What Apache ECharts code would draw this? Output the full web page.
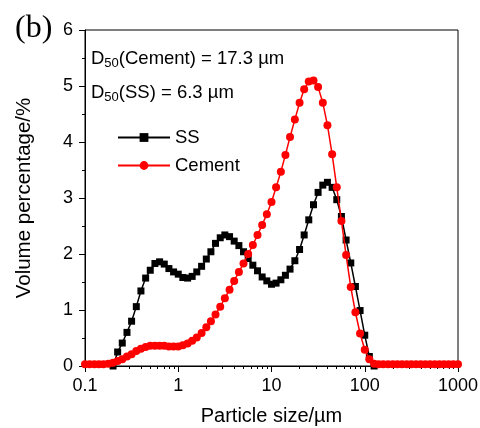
<!DOCTYPE html>
<html><head><meta charset="utf-8">
<script src="https://cdn.jsdelivr.net/npm/echarts@6/dist/echarts.min.js"></script>
<style>html,body{margin:0;padding:0;background:#fff}#c{width:480px;height:428px}</style>
</head><body><div id="c"></div>
<script>
// Particle size grid (µm)
const sizes = [0.1,0.112,0.126,0.141,0.158,0.178,0.2,0.224,0.251,0.282,0.316,0.355,0.398,0.447,0.501,0.562,0.631,0.708,0.794,0.891,
1,1.12,1.26,1.41,1.58,1.78,2,2.24,2.51,2.82,3.16,3.55,3.98,4.47,5.01,5.62,6.31,7.08,7.94,8.91,
10,11.2,12.6,14.1,15.8,17.8,20,22.4,25.1,28.2,31.6,35.5,39.8,44.7,50.1,56.2,63.1,70.8,79.4,89.1,
100,112,126,141,158,178,200,224,251,282,316,355,398,447,501,562,631,708,794,891,1000];
const ssValues = [null,null,null,null,null,null,
0,0.25,0.41,0.60,0.80,1.06,1.34,1.57,1.71,1.83,1.86,1.82,1.74,1.68,1.64,1.58,1.57,1.60,1.68,1.78,1.91,2.04,2.19,2.29,2.34,2.31,2.23,2.15,2.04,1.92,1.80,1.70,1.59,1.52,1.46,1.48,1.54,1.62,1.73,1.88,2.08,2.34,2.61,2.88,3.10,3.23,3.28,3.19,2.97,2.67,2.25,1.84,1.42,0.99,0.55,0.17,0,
null,null,null,null,null,null,null,null,null,null,null,null,null,null,null,null,null,null];
const cementValues = [0.03,0.03,0.03,0.03,0.03,
0.04,0.06,0.09,0.12,0.17,0.21,0.27,0.31,0.34,0.36,0.36,0.36,0.36,0.35,0.35,0.35,0.37,0.40,0.45,0.51,0.59,0.69,0.80,0.92,1.06,1.21,1.36,1.52,1.68,1.83,2.00,2.16,2.34,2.52,2.71,2.93,3.19,3.47,3.77,4.09,4.40,4.70,4.94,5.08,5.10,4.98,4.70,4.30,3.78,3.19,2.59,1.98,1.41,0.96,0.58,0.29,0.12,0.04,
0.03,0.03,0.03,0.03,0.03,0.03,0.03,0.03,0.03,0.03,0.03,0.03,0.03,0.03,0.03,0.03,0.03,0.03];
const minorXTicks = [0.2,0.3,0.4,0.5,0.6,0.7,0.8,0.9,2,3,4,5,6,7,8,9,20,30,40,50,60,70,80,90,200,300,400,500,600,700,800,900];
const seriesNames = ['SS','Cement'];

const FONT = 'Liberation Sans, Arial, sans-serif';
function pairs(vals){
  const out = [];
  for (let i = 0; i < sizes.length; i++) {
    if (vals[i] === null) continue;
    out.push([sizes[i], vals[i]]);
  }
  return out;
}
const chart = echarts.init(document.getElementById('c'), null, {renderer:'canvas'});
chart.setOption({
  animation:false,
  backgroundColor:'#fff',
  grid:{left:85,right:22,top:30,bottom:62,containLabel:false,outerBoundsMode:'none',
    show:true,borderColor:'#000',borderWidth:1,backgroundColor:'transparent'},
  xAxis:[{
    type:'log',logBase:10,min:0.1,max:1000,
    name:'Particle size/µm',nameLocation:'middle',nameGap:40,
    nameTextStyle:{fontFamily:FONT,fontSize:20,color:'#000'},
    axisLine:{lineStyle:{color:'#000',width:1}},
    axisTick:{show:true,inside:false,length:6,lineStyle:{color:'#000'}},
    axisLabel:{fontFamily:FONT,fontSize:18,color:'#000',margin:11,
      formatter:function(v){return String(+v.toPrecision(3));}},
    splitLine:{show:false},minorTick:{show:false}
  },{
    type:'log',logBase:10,min:0.1,max:1000,position:'bottom',
    axisLine:{show:false},
    axisTick:{show:true,inside:false,length:3,customValues:minorXTicks,lineStyle:{color:'#000'}},
    axisLabel:{show:false},splitLine:{show:false}
  }],
  yAxis:{
    type:'value',min:0,max:6,interval:1,
    name:'Volume percentage/%',nameLocation:'middle',nameGap:50,
    nameTextStyle:{fontFamily:FONT,fontSize:20.5,color:'#000'},
    axisLine:{show:true,lineStyle:{color:'#000',width:1}},
    axisTick:{show:true,inside:false,length:6,lineStyle:{color:'#000'}},
    minorTick:{show:true,splitNumber:2,length:3,lineStyle:{color:'#000'}},
    axisLabel:{fontFamily:FONT,fontSize:18,color:'#000',margin:12},
    splitLine:{show:false}
  },
  legend:{
    orient:'vertical',left:112,top:123,itemWidth:52,itemHeight:11,itemGap:9,
    textStyle:{fontFamily:FONT,fontSize:18.5,color:'#000'},
    data:seriesNames
  },
  graphic:[
    {type:'text',left:15,top:13,style:{text:'(b)',font:'32px "Liberation Serif", "Times New Roman", serif',fill:'#000'}},
    {type:'text',left:91,top:49,style:{text:'{n|D}{s|50}{n|(Cement) = 17.3 µm}',
      rich:{n:{fontFamily:FONT,fontSize:18.5,color:'#000'},s:{fontFamily:FONT,fontSize:13,color:'#000',padding:[10,0,0,0]}}}},
    {type:'text',left:91,top:83,style:{text:'{n|D}{s|50}{n|(SS) = 6.3 µm}',
      rich:{n:{fontFamily:FONT,fontSize:18.5,color:'#000'},s:{fontFamily:FONT,fontSize:13,color:'#000',padding:[10,0,0,0]}}}}
  ],
  series:[
    {name:seriesNames[0],type:'line',xAxisIndex:0,data:pairs(ssValues),symbol:'rect',symbolSize:7,
      itemStyle:{color:'#000'},lineStyle:{color:'#000',width:1.5},z:2},
    {name:seriesNames[1],type:'line',xAxisIndex:0,data:pairs(cementValues),symbol:'circle',symbolSize:8,
      itemStyle:{color:'#ff0000'},lineStyle:{color:'#ff0000',width:1.5},z:3}
  ]
});
</script></body></html>
